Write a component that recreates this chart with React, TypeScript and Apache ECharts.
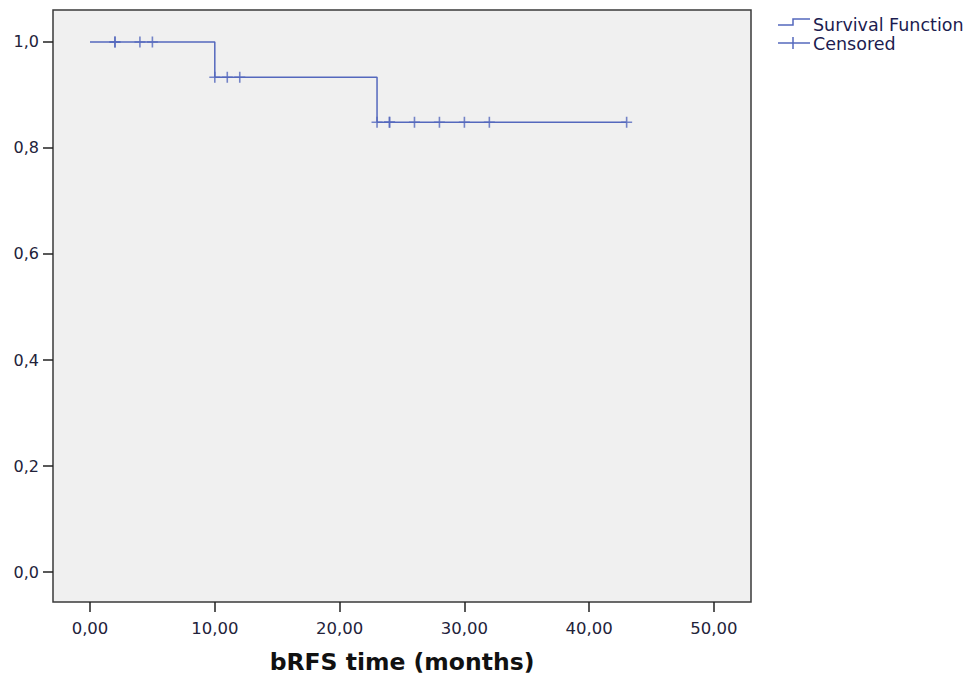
import React, { useEffect, useRef } from "react";
import * as echarts from "echarts";

// Kaplan-Meier step points (time in months, cumulative survival)
const stepTimes = [0, 10, 23, 43];
const stepSurvival = [1.0, 0.9333, 0.8485, 0.8485];

// Censored observations
const censoredTimes = [2, 2, 4, 5, 10, 11, 12, 23, 24, 24, 26, 28, 30, 32, 43];
const censoredSurvival = [1.0, 1.0, 1.0, 1.0, 0.9333, 0.9333, 0.9333, 0.8485, 0.8485, 0.8485, 0.8485, 0.8485, 0.8485, 0.8485, 0.8485];

const xTicks = [0, 10, 20, 30, 40, 50];
const yTicks = [0, 0.2, 0.4, 0.6, 0.8, 1.0];

const BLUE = "#5468bd";
const FONT = "'DejaVu Sans', sans-serif";

export default function App() {
  const ref = useRef<HTMLDivElement>(null);
  useEffect(() => {
    document.body.style.margin = "0";
    if (!ref.current) return;
    const chart = echarts.init(ref.current, null, { renderer: "svg" });
    const boxL = 53, boxR = 751, boxT = 10, boxB = 603;
    chart.setOption({
      animation: false,
      backgroundColor: "#ffffff",
      grid: {
        left: boxL,
        top: boxT,
        width: boxR - boxL,
        height: boxB - boxT,
        show: true,
        backgroundColor: "#f0f0f0",
        borderColor: "#3a3a3a",
        borderWidth: 1.5,
        containLabel: false,
      },
      xAxis: {
        type: "value",
        min: -2.965,
        max: 52.965,
        axisLine: { show: false, onZero: false },
        axisTick: { show: true, inside: false, length: 10, customValues: xTicks, lineStyle: { color: "#222", width: 1.5 } },
        splitLine: { show: false },
        axisLabel: {
          customValues: xTicks,
          margin: 18,
          fontFamily: FONT,
          fontSize: 16.5,
          color: "#22223a",
          formatter: (v: number) => v.toFixed(2).replace(".", ","),
        },
        name: "bRFS time (months)",
        nameLocation: "middle",
        nameGap: 48,
        nameTextStyle: { fontFamily: FONT, fontSize: 23.5, fontWeight: "bold", color: "#111" },
      },
      yAxis: {
        type: "value",
        min: -0.0565,
        max: 1.0603,
        axisLine: { show: false, onZero: false },
        axisTick: { show: true, inside: false, length: 10, customValues: yTicks, lineStyle: { color: "#222", width: 1.5 } },
        splitLine: { show: false },
        axisLabel: {
          customValues: yTicks,
          margin: 14,
          fontFamily: FONT,
          fontSize: 16,
          color: "#22223a",
          formatter: (v: number) => v.toFixed(1).replace(".", ","),
        },
      },
      graphic: [
        {
          type: "polyline",
          shape: { points: [[778, 25], [793, 25], [793, 19], [810, 19]] },
          style: { stroke: BLUE, lineWidth: 1.5, fill: "none" },
        },
        {
          type: "text",
          x: 813,
          y: 25,
          style: { text: "Survival Function", fontFamily: FONT, fontSize: 17.5, fill: "#1c1c50", verticalAlign: "middle" },
        },
        {
          type: "line",
          shape: { x1: 778, y1: 43, x2: 810, y2: 43 },
          style: { stroke: BLUE, lineWidth: 1.5 },
        },
        {
          type: "line",
          shape: { x1: 793, y1: 37, x2: 793, y2: 49 },
          style: { stroke: BLUE, lineWidth: 1.5 },
        },
        {
          type: "text",
          x: 813,
          y: 44,
          style: { text: "Censored", fontFamily: FONT, fontSize: 17.5, fill: "#1c1c50", verticalAlign: "middle" },
        },
      ],
      series: [
        {
          name: "Survival Function",
          type: "line",
          step: "end",
          data: stepTimes.map((t, i) => [t, stepSurvival[i]]),
          showSymbol: false,
          symbol: "none",
          lineStyle: { color: BLUE, width: 1.5 },
          z: 3,
        },
        {
          name: "Censored",
          type: "scatter",
          data: censoredTimes.map((t, i) => [t, censoredSurvival[i]]),
          symbol: "path://M0,5L10,5M5,0L5,10",
          symbolSize: 11,
          itemStyle: { color: "transparent", borderColor: BLUE, borderWidth: 1.6 },
          z: 4,
        },
      ],
    });
    return () => chart.dispose();
  }, []);
  return <div ref={ref} style={{ width: 969, height: 679 }} />;
}
